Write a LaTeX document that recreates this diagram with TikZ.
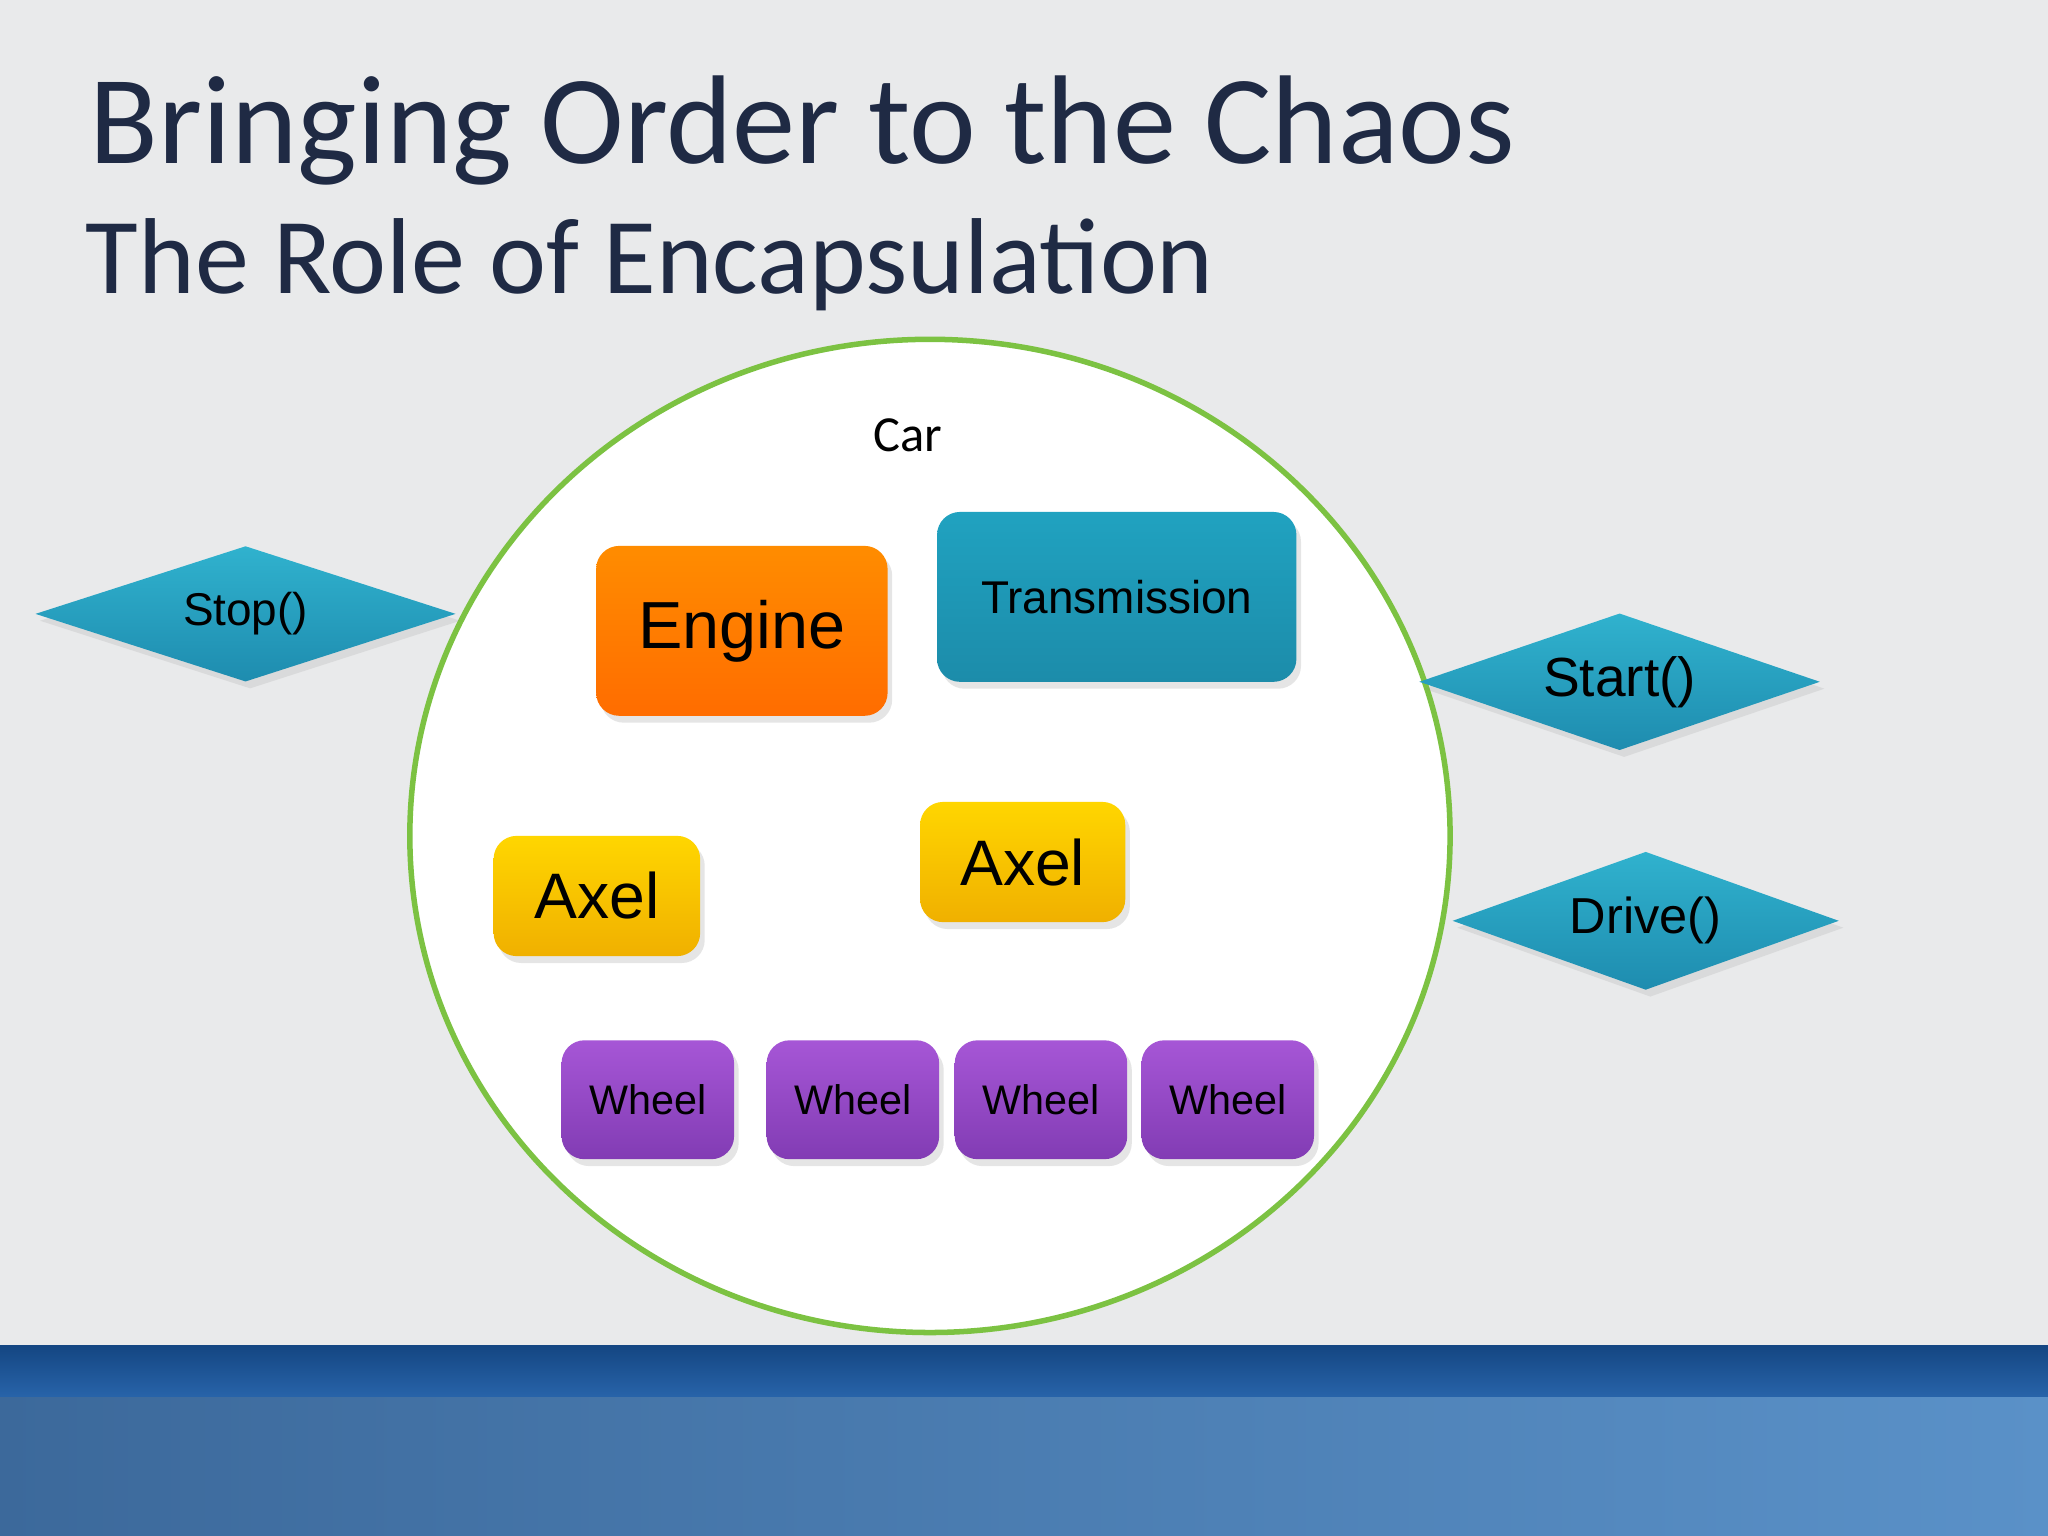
\documentclass[tikz,border=0pt]{standalone}
\usepackage{fontspec}
\setmainfont{Liberation Sans}
\newfontfamily\calfont{Carlito}
\usetikzlibrary{shapes.geometric,shadows}
\definecolor{bg}{HTML}{E9EAEB}
\definecolor{navy}{HTML}{1F2A44}
\definecolor{grn}{HTML}{7CC242}
\tikzset{
 box/.style={rounded corners=5pt,inner sep=0pt,draw=none,drop shadow={opacity=0.2,shadow xshift=1pt,shadow yshift=-1.5pt}},
 eng/.style={box,top color=orange!90!yellow,bottom color=orange!85!red},
 trans/.style={box,top color={rgb,255:red,32;green,162;blue,192},bottom color={rgb,255:red,28;green,140;blue,170}},
 axel/.style={box,top color={rgb,255:red,255;green,214;blue,0},bottom color={rgb,255:red,240;green,176;blue,0}},
 whl/.style={box,top color={rgb,255:red,166;green,86;blue,214},bottom color={rgb,255:red,130;green,60;blue,180},minimum width=1.32cm,minimum height=0.91cm,font=\fontsize{9}{11}\selectfont},
 dia/.style={diamond,inner sep=0pt,top color={rgb,255:red,48;green,178;blue,206},bottom color={rgb,255:red,30;green,140;blue,175},drop shadow={opacity=0.15,shadow xshift=1pt,shadow yshift=-1.5pt}},
}
\begin{document}
\begin{tikzpicture}[x=0.01cm,y=-0.01cm]
\fill[bg] (0,0) rectangle (1568,1176);
\useasboundingbox (0,0) rectangle (1568,1176);
\fill[top color={rgb,255:red,20;green,70;blue,130},bottom color={rgb,255:red,40;green,100;blue,170}] (0,1030) rectangle (1568,1070);
\fill[left color={rgb,255:red,60;green,105;blue,155},right color={rgb,255:red,90;green,145;blue,200}] (0,1070) rectangle (1568,1176);
\node[anchor=base west,inner sep=0,text=navy,font=\calfont\fontsize{27.5}{30}\selectfont] (t1) at (68,125) {Bringing Order to the Chaos};
\node[anchor=base west,inner sep=0,text=navy,font=\calfont\fontsize{23.5}{27}\selectfont] (t2) at (65,225) {The Role of Encapsulation};
\node[ellipse,draw=grn,line width=1.2pt,fill=white,minimum width=7.96cm,minimum height=7.6cm] (car) at (712,640) {};
\node[font=\calfont\fontsize{11}{13}\selectfont] (carl) at (695,333) {Car};
\node[eng,minimum width=2.23cm,minimum height=1.3cm,font=\fontsize{14.5}{18}\selectfont] (engine) at (568,483) {Engine};
\node[trans,minimum width=2.75cm,minimum height=1.3cm,font=\fontsize{10}{12}\selectfont] (tr) at (855,457) {Transmission};
\node[axel,minimum width=1.58cm,minimum height=0.92cm,font=\fontsize{14}{16}\selectfont] (a1) at (457,686) {Axel};
\node[axel,minimum width=1.57cm,minimum height=0.92cm,font=\fontsize{14}{16}\selectfont] (a2) at (783,660) {Axel};
\node[whl] (w1) at (496,842) {Wheel};
\node[whl] (w2) at (653,842) {Wheel};
\node[whl] (w3) at (797,842) {Wheel};
\node[whl] (w4) at (940,842) {Wheel};
\node[dia,aspect=3.1,minimum width=3.22cm,minimum height=1.04cm,font=\fontsize{10}{12}\selectfont] (stop) at (188,470) {Stop()};
\node[dia,aspect=2.92,minimum width=3.07cm,minimum height=1.05cm,font=\fontsize{12}{14}\selectfont] (start) at (1240,522) {Start()};
\node[dia,aspect=2.8,minimum width=2.96cm,minimum height=1.06cm,font=\fontsize{11}{13}\selectfont] (drive) at (1260,705) {Drive()};
\end{tikzpicture}
\end{document}
